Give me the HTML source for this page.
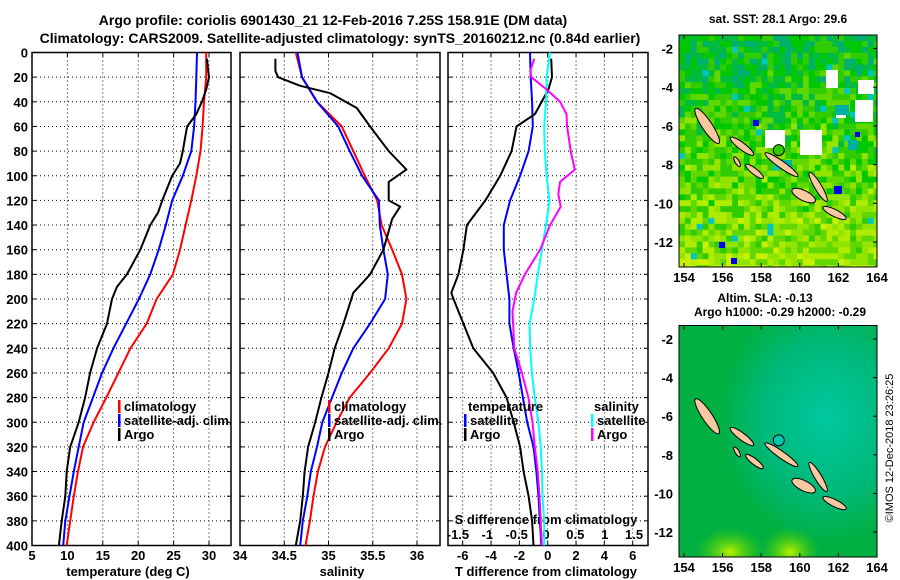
<!DOCTYPE html>
<html><head><meta charset="utf-8">
<style>
html,body{margin:0;padding:0;background:#fff;}
svg{display:block;font-family:"Liberation Sans",sans-serif;font-weight:bold;}
</style></head>
<body>
<svg id="c" width="900" height="580" viewBox="0 0 900 580" xmlns="http://www.w3.org/2000/svg">
<text x="333" y="25" font-size="14" text-anchor="middle">Argo profile: coriolis 6901430_21 12-Feb-2016 7.25S 158.91E (DM data)</text>
<text x="340" y="43" font-size="14" text-anchor="middle">Climatology: CARS2009. Satellite-adjusted climatology: synTS_20160212.nc (0.84d earlier)</text>
<g id="maps"></g>
<g id="plots"></g>
</svg>
<script>
// ---- data ----
const depths = [0,20,40,60,80,100,120,140,160,180,200,220,240,260,280,300,320,340,360,380,400];
const tempClim = [29.6,29.6,29.3,29.1,28.8,28.2,27.5,26.7,25.9,24.9,22.6,21.2,18.9,17.2,15.5,13.7,12.2,11.5,10.9,10.4,9.9];
const tempSat = [28.3,28.2,28.1,27.9,27.5,26.3,24.8,23.9,22.9,21.7,20.1,18.3,16.5,14.9,13.6,12.3,11.6,10.9,10.3,9.7,9.4];
const tempArgoDepths = [5,20,30,40,50,60,70,80,90,100,110,120,130,140,160,180,190,200,220,240,260,280,300,320,340,360,380,400];
const tempArgo = [29.7,30.0,29.6,29.0,28.2,26.9,26.6,26.3,25.9,24.8,24.1,23.4,22.8,21.7,20.3,18.4,17.0,16.3,15.6,14.2,13.2,12.5,11.6,10.4,9.9,9.7,9.2,8.8];
const salClim = [34.63,34.70,34.87,35.15,35.28,35.41,35.55,35.60,35.72,35.83,35.88,35.83,35.68,35.47,35.24,35.09,34.96,34.88,34.83,34.79,34.74];
const salSat = [34.65,34.70,34.87,35.11,35.24,35.38,35.57,35.58,35.62,35.67,35.64,35.47,35.28,35.15,35.04,34.93,34.87,34.80,34.76,34.71,34.68];
const salArgoDepths = [5,15,20,27,33,45,60,80,95,100,105,120,125,135,160,180,195,220,240,260,280,300,320,340,360,380,400];
const salArgo = [34.40,34.40,34.43,34.68,35.02,35.32,35.47,35.68,35.88,35.78,35.68,35.68,35.81,35.72,35.62,35.47,35.28,35.17,35.07,35.00,34.92,34.85,34.77,34.73,34.71,34.68,34.63];
const dTempSat = [-1.25,-1.2,-1.1,-1.05,-1.35,-1.95,-2.65,-3.1,-3.1,-2.9,-2.7,-2.7,-2.4,-2.05,-1.75,-1.45,-1.0,-0.8,-0.65,-0.55,-0.45];
const dTempArgoDepths = [5,20,30,50,60,80,100,120,140,160,180,195,200,220,240,260,280,300,320,340,360,380,400];
const dTempArgo = [0.25,0.3,0.05,-0.9,-2.2,-2.55,-3.35,-4.4,-5.7,-5.95,-6.3,-6.8,-6.65,-5.95,-5.25,-3.85,-2.9,-2.4,-1.95,-1.7,-1.35,-1.1,-1.0];
const dSalSat = [0.07,0.01,0,-0.03,-0.02,0.01,0.06,0,-0.07,-0.14,-0.2,-0.28,-0.27,-0.24,-0.19,-0.13,-0.09,-0.07,-0.06,-0.03,-0.03];
const dSalArgoDepths = [5,15,20,30,40,50,60,80,95,105,115,125,140,160,180,195,210,220,240,260,280,300,320,340,360,380,400];
const dSalArgo = [-0.2,-0.27,-0.25,0.01,0.24,0.35,0.36,0.42,0.49,0.24,0.21,0.25,0.07,-0.1,-0.36,-0.51,-0.57,-0.56,-0.54,-0.41,-0.3,-0.23,-0.19,-0.14,-0.11,-0.09,-0.07];
const depthTicks = [0,20,40,60,80,100,120,140,160,180,200,220,240,260,280,300,320,340,360,380,400];
const tempTicks = [5,10,15,20,25,30];
const salTicks = [34,34.5,35,35.5,36];
const dTempTicks = [-6,-4,-2,0,2,4,6];
const dSalTicks = [-1.5,-1,-0.5,0,0.5,1,1.5];
const lonTicks = [154,156,158,160,162,164];
const latTicks = [-2,-4,-6,-8,-10,-12];

const NS='http://www.w3.org/2000/svg';
const plots=document.getElementById('plots');
const maps=document.getElementById('maps');
function mk(tag,attrs,parent,txt){const e=document.createElementNS(NS,tag);for(const k in attrs)e.setAttribute(k,attrs[k]);if(txt!==undefined)e.textContent=txt;(parent||plots).appendChild(e);return e;}

const yTop=52.5, yBot=545.5;
const yD = d => yTop + d*(yBot-yTop)/400;
const xTemp = v => 32 + (v-5)*7.08;
const xSal = v => 240 + (v-34)*88.5;
const xDT = v => 547.7 + v*14.17;
const xDS = v => 546 + v*58.7;

function grid(x0,x1,xs){
  for(const d of depthTicks){ if(d===0||d===400) continue;
    const l=mk('line',{x1:x0,x2:x1,y1:yD(d),y2:yD(d),stroke:'#000','stroke-width':1,'stroke-dasharray':'1,3'});
     
    mk('line',{x1:x0,x2:x0+4,y1:yD(d),y2:yD(d),stroke:'#000'}); mk('line',{x1:x1-4,x2:x1,y1:yD(d),y2:yD(d),stroke:'#000'});
  }
  for(const x of xs){
    const l=mk('line',{x1:x,x2:x,y1:yTop,y2:yBot,stroke:'#000','stroke-width':1,'stroke-dasharray':'1,3'});
     
    mk('line',{x1:x,x2:x,y1:yTop,y2:yTop+4,stroke:'#000'}); mk('line',{x1:x,x2:x,y1:yBot-4,y2:yBot,stroke:'#000'});
  }
  const r=mk('rect',{x:x0,y:yTop,width:x1-x0,height:yBot-yTop,fill:'none',stroke:'#000','stroke-width':1.5});
   
}
function line(xs,ds,fx,color,name,w){
  const pts=xs.map((v,i)=>fx(v).toFixed(1)+','+yD(ds[i]).toFixed(1)).join(' ');
  const p=mk('polyline',{points:pts,fill:'none',stroke:color,'stroke-width':w||2,'stroke-linejoin':'round'});
   
}
function txt(x,y,s,anchor,size,name,parent){
  const t=mk('text',{x:x,y:y,'font-size':size||13,'text-anchor':anchor||'start'},parent,s);
    return t;
}
function legend(x,y,color,label,name){
  mk('rect',{x:x,y:y-11,width:2.5,height:13,fill:color});
  txt(x+6,y,label,'start',13,name);
}

// Panel 1: temperature
grid(32,231,tempTicks.filter(v=>v>5).map(xTemp));
for(const d of depthTicks) txt(28,yD(d)+5,String(d),'end',13,'depth-tick-label');
for(const v of tempTicks) txt(xTemp(v),560,String(v),'middle',13,'temp-tick-label');
txt(231,560,'','middle',13,'temp-tick-label');
txt(128,576,'temperature (deg C)','middle',13,'temp-axis-title');
line(tempClim,depths,xTemp,'#ff0000','temp-climatology-line');
line(tempSat,depths,xTemp,'#0000ff','temp-satellite-line');
line(tempArgo,tempArgoDepths,xTemp,'#000','temp-argo-line');
legend(118,411,'#ff0000','climatology','legend-climatology');
legend(118,425,'#0000ff','satellite-adj. clim.','legend-satellite');
legend(118,439,'#000','Argo','legend-argo');

// Panel 2: salinity
grid(240,440,salTicks.filter(v=>v>34).map(xSal));
for(const v of salTicks) txt(xSal(v),560,String(v),'middle',13,'salinity-tick-label');
txt(342,576,'salinity','middle',13,'salinity-axis-title');
line(salClim,depths,xSal,'#ff0000','sal-climatology-line');
line(salSat,depths,xSal,'#0000ff','sal-satellite-line');
line(salArgo,salArgoDepths,xSal,'#000','sal-argo-line');
legend(328,411,'#ff0000','climatology','legend-climatology');
legend(328,425,'#0000ff','satellite-adj. clim.','legend-satellite');
legend(328,439,'#000','Argo','legend-argo');

// Panel 3: differences
grid(448,648,dTempTicks.map(xDT));
for(const v of dTempTicks) txt(xDT(v),560,String(v),'middle',13,'tdiff-tick-label');
for(const v of dSalTicks) txt(xDS(v),539,String(v),'middle',13,'sdiff-tick-label');
txt(546,524,'S difference from climatology','middle',13,'sdiff-axis-title');
txt(546,576,'T difference from climatology','middle',13,'tdiff-axis-title');
line(dTempSat,depths,xDT,'#0000ff','tdiff-satellite-line');
line(dTempArgo,dTempArgoDepths,xDT,'#000','tdiff-argo-line');
line(dSalSat,depths,xDS,'#00ffff','sdiff-satellite-line');
line(dSalArgo,dSalArgoDepths,xDS,'#ff00ff','sdiff-argo-line');
txt(468,411,'temperature','start',13,'legend-temperature-heading');
legend(464,425,'#0000ff','satellite','legend-t-satellite');
legend(464,439,'#000','Argo','legend-t-argo');
txt(594,411,'salinity','start',13,'legend-salinity-heading');
legend(591,425,'#00ffff','satellite','legend-s-satellite');
legend(591,439,'#ff00ff','Argo','legend-s-argo');

// ---- maps ----
const lonX = v => 684 + (v-154)*19.3;
function hash(i,j){let h=(i*374761393+j*668265263)^0x5bd1e995;h=(h^(h>>>13))*1274126177;return ((h^(h>>>16))>>>0)/4294967296;}
function drawMap(top,bottom,latY,kind){
  const g=mk('g',{},maps);
   
  const cp='clip'+kind;
  const defs=mk('defs',{},g); const c=mk('clipPath',{id:cp},defs); mk('rect',{x:679,y:top,width:198,height:bottom-top},c);
  const inner=mk('g',{'clip-path':'url(#'+cp+')'},g);
  if(kind==='sst'){
    const pal=['#c8f000','#b0ec00','#90e400','#60d800','#30cc00','#00c800','#00bb40','#00b070'];
    const cs=5.9;
    for(let j=0;j*cs<bottom-top;j++)for(let i=0;i*cs<198;i++){
      const r=hash(i,j); const north=1-j*cs/(bottom-top);
      let idx=Math.floor(r*4+north*4.2); idx=Math.max(0,Math.min(7,idx));
      let col=pal[idx];
      if(r>0.985) col='#00c8c0';
      mk('rect',{x:679+i*cs,y:top+j*cs,width:cs+0.3,height:cs+0.3,fill:col},inner);
    }
    const whites=[[826,70,12,18],[858,80,16,14],[855,100,18,22],[800,130,22,25],[765,130,20,18],[836,110,10,8]];
    for(const w of whites) mk('rect',{x:w[0],y:w[1],width:w[2],height:w[3],fill:'#fff'},inner);
    const teals=[[835,105,14,10],[780,160,12,8],[848,140,10,10]];
    for(const w of teals) mk('rect',{x:w[0],y:w[1],width:w[2],height:w[3],fill:'#00b0a0'},inner);
    const blues=[[719,242,6,6],[731,258,6,6],[834,186,8,8],[753,120,6,6],[855,132,5,5]];
    for(const w of blues) mk('rect',{x:w[0],y:w[1],width:w[2],height:w[3],fill:'#0000ee'},inner);
  } else {
    const gid='gr'+kind;
    const d2=mk('defs',{},g);
    const rg=mk('radialGradient',{id:gid,cx:'0.75',cy:'0.4',r:'0.55'},d2);
    mk('stop',{offset:'0','stop-color':'#00c8a0'},rg);mk('stop',{offset:'0.6','stop-color':'#00b878'},rg);mk('stop',{offset:'1','stop-color':'#00b040'},rg);
    mk('rect',{x:679,y:top,width:198,height:bottom-top,fill:'url(#'+gid+')'},inner);
    const gy=mk('radialGradient',{id:gid+'y',cx:'0.5',cy:'0.5',r:'0.5'},d2);
    mk('stop',{offset:'0','stop-color':'#b8f000','stop-opacity':'1'},gy);mk('stop',{offset:'1','stop-color':'#40d000','stop-opacity':'0'},gy);
    mk('ellipse',{cx:730,cy:bottom-5,rx:35,ry:25,fill:'url(#'+gid+'y)'},inner);
    mk('ellipse',{cx:790,cy:bottom-5,rx:30,ry:25,fill:'url(#'+gid+'y)'},inner);
  }
  const latYf = v => latY(v);
  const isl=[[154.6,-5.1,155.8,-6.9,5],[156.4,-6.6,157.6,-7.5,3.5],[158.2,-7.4,159.9,-8.6,3.5],[157.2,-8.0,158.1,-8.7,3],[159.6,-9.3,160.8,-9.9,5],[160.5,-8.4,161.4,-9.9,3.5],[161.2,-10.2,162.4,-10.8,3.5],[156.6,-7.6,156.9,-8.1,2]];
  for(const s of isl){
    const x1=lonX(s[0]),y1=latYf(s[1]),x2=lonX(s[2]),y2=latYf(s[3]);
    const cx=(x1+x2)/2,cy=(y1+y2)/2,len=Math.hypot(x2-x1,y2-y1)/2,ang=Math.atan2(y2-y1,x2-x1)*180/Math.PI;
    const e=mk('ellipse',{cx:cx,cy:cy,rx:len,ry:s[4],fill:'#f8c8a0',stroke:'#000','stroke-width':1,transform:'rotate('+ang+' '+cx+' '+cy+')'},inner);
     
  }
  const ac=mk('circle',{cx:lonX(158.91),cy:latYf(-7.25),r:5.5,fill:kind==='sst'?'#30cc00':'#00c8b0',stroke:'#000','stroke-width':1},g);
   
  const fr=mk('rect',{x:679,y:top,width:198,height:bottom-top,fill:'none',stroke:'#000','stroke-width':1},g);
   
  for(const v of lonTicks){mk('line',{x1:lonX(v),x2:lonX(v),y1:top,y2:top+4,stroke:'#000'},g);mk('line',{x1:lonX(v),x2:lonX(v),y1:bottom-4,y2:bottom,stroke:'#000'},g);
    txt(lonX(v),bottom+15,String(v),'middle',13,kind+'-lon-tick-label',g);}
  for(const v of latTicks){mk('line',{x1:877-4,x2:877,y1:latYf(v),y2:latYf(v),stroke:'#000'},g);
    txt(673,latYf(v)+5,String(v),'end',13,kind+'-lat-tick-label',g);}
}
drawMap(35,267,v=>48.5+(-2-v)*19.35,'sst');
drawMap(325.5,557,v=>339+(-2-v)*19.3,'sla');
txt(778,23,'sat. SST: 28.1 Argo: 29.6','middle',12,'sst-map-title',maps);
txt(765,302,'Altim. SLA: -0.13','middle',12,'sla-map-title',maps);
txt(780,316,'Argo h1000: -0.29 h2000: -0.29','middle',12,'argo-height-title',maps);
const rot=txt(0,0,'©IMOS 12-Dec-2018 23:26:25','middle',11,'imos-timestamp',maps);
rot.setAttribute('transform','translate(893,448) rotate(-90)');
rot.setAttribute('font-weight','normal');
</script>
</body></html>
